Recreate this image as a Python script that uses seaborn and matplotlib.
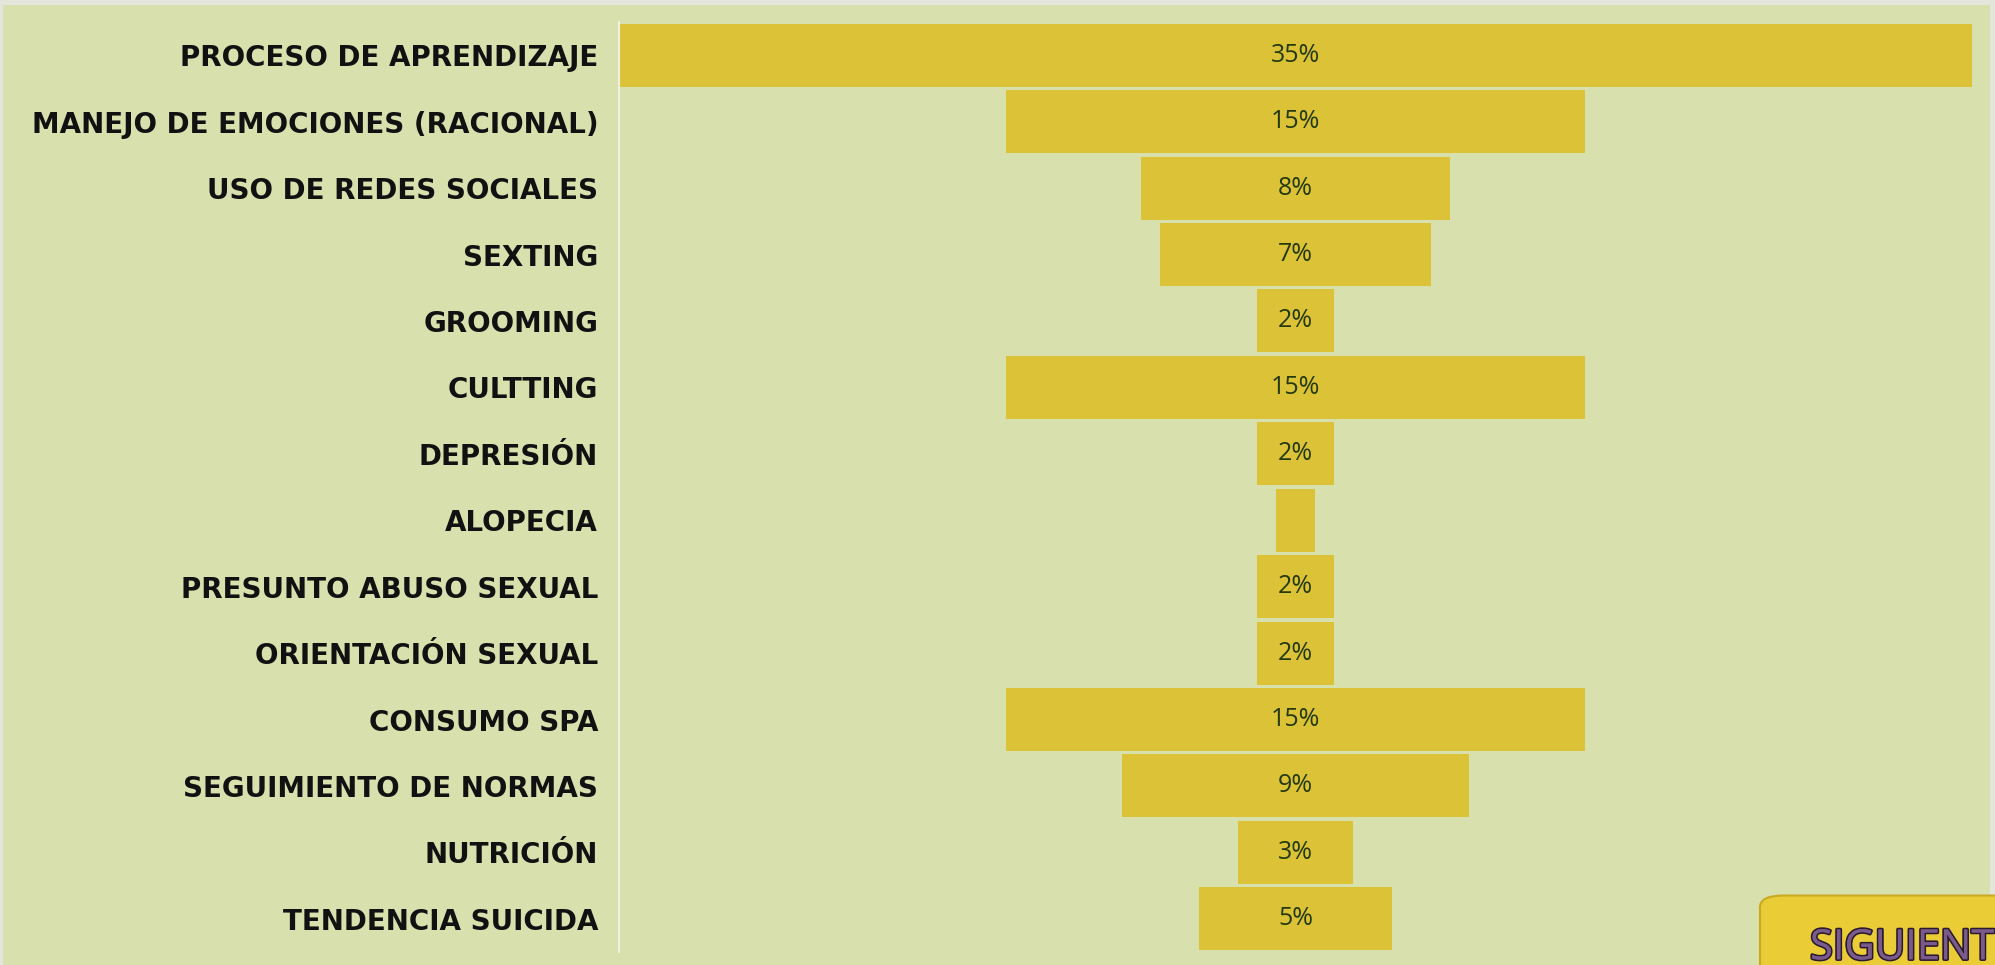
import numpy as np
import matplotlib.pyplot as plt
import matplotlib.patheffects as pe
from matplotlib.patches import Rectangle, FancyBboxPatch
import seaborn as sns

# Data
categories = ['PROCESO DE APRENDIZAJE', 'MANEJO DE EMOCIONES (RACIONAL)',
              'USO DE REDES SOCIALES', 'SEXTING', 'GROOMING', 'CULTTING',
              'DEPRESIÓN', 'ALOPECIA', 'PRESUNTO ABUSO SEXUAL',
              'ORIENTACIÓN SEXUAL', 'CONSUMO SPA', 'SEGUIMIENTO DE NORMAS',
              'NUTRICIÓN', 'TENDENCIA SUICIDA']
values = [35, 15, 8, 7, 2, 15, 2, 1, 2, 2, 15, 9, 3, 5]
labels = ['35%', '15%', '8%', '7%', '2%', '15%', '2%', '', '2%', '2%',
          '15%', '9%', '3%', '5%']

bar_color = '#dcc236'
panel_color = '#d8e0ae'

sns.set_style('white')
plt.rcParams['font.family'] = ['DejaVu Sans']

fig = plt.figure(figsize=(19.95, 9.65), dpi=100, facecolor='#e4e6dc')
# green panel behind the chart
fig.patches.append(Rectangle((3 / 1995, 0), 1987 / 1995, 1 - 5 / 965,
                             transform=fig.transFigure, facecolor=panel_color,
                             edgecolor='none', zorder=-10))

ax = fig.add_axes([619 / 1995, 1 - 952 / 965, 1353 / 1995, 930 / 965])
ax.set_facecolor('none')
ax.set_zorder(1)

sns.barplot(x=values, y=categories, orient='h', color=bar_color,
            saturation=1, width=0.95, ax=ax, linewidth=0)

# centre each bar around zero to make the funnel
for p in ax.patches:
    w = p.get_width()
    p.set_x(-w / 2)

half = max(values) / 2
ax.set_xlim(-half, half)
ax.set_ylim(len(categories) - 0.5, -0.5)

for i, lab in enumerate(labels):
    ax.text(0, i, lab, ha='center', va='center', fontsize=18,
            color='#243a0c', family='Open Sans')

ax.set_xticks([])
ax.set_xlabel('')
ax.set_ylabel('')
ax.tick_params(axis='y', length=0, pad=15)
for t in ax.get_yticklabels():
    t.set_fontweight('bold')
    t.set_fontsize(20)
    t.set_color('#111111')

for s in ['top', 'right', 'bottom']:
    ax.spines[s].set_visible(False)
ax.spines['left'].set_color('#eef1e0')
ax.spines['left'].set_linewidth(1.5)

# "SIGUIENT" button in the bottom corner
btn = FancyBboxPatch((1760 / 1995, -0.05), 0.2, 0.122,
                     boxstyle='round,pad=0,rounding_size=0.012',
                     transform=fig.transFigure, facecolor='#e9cc36',
                     edgecolor='#c9a920', linewidth=1.5, zorder=5)
fig.patches.append(btn)
txt = fig.text(1810 / 1995, 0.006, 'SIGUIENT', fontsize=30,
               family='Open Sans', color='#7a5a8a', ha='left', va='baseline',
               zorder=6)
txt.set_path_effects([pe.withStroke(linewidth=2.5, foreground='#2a1a30'),
                      pe.Normal()])

fig.savefig('out.png', dpi=100, facecolor=fig.get_facecolor())
